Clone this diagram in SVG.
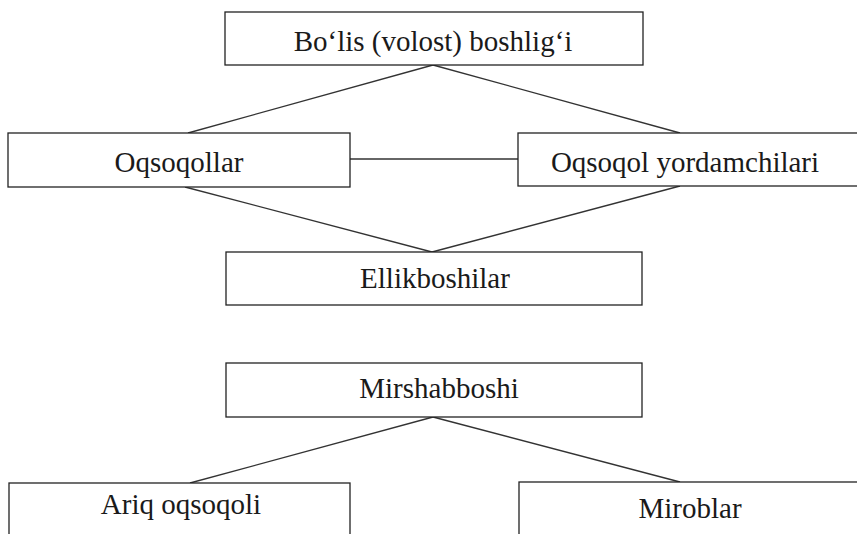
<svg xmlns="http://www.w3.org/2000/svg" width="857" height="534" viewBox="0 0 857 534">
<style>
.box{fill:#fff;stroke:#222;stroke-width:1.3}
.lbl{font-family:"Liberation Serif",serif;font-size:29px;fill:#1a1a1a;text-anchor:middle}
.con line{stroke:#333;stroke-width:1.3}
</style>
<rect width="857" height="534" fill="#fff"/>
<g class="con">
<line x1="433" y1="65" x2="188" y2="133"/>
<line x1="433" y1="65" x2="680" y2="133"/>
<line x1="350" y1="159" x2="518" y2="159"/>
<line x1="185" y1="187" x2="432" y2="252"/>
<line x1="680" y1="186" x2="432" y2="252"/>
<line x1="433" y1="417" x2="190" y2="483"/>
<line x1="433" y1="417" x2="680" y2="482"/>
</g>
<g id="n1"><rect class="box" x="225" y="12" width="418" height="53"/><text class="lbl" x="433" y="51">Bo‘lis (volost) boshlig‘i</text></g>
<g id="n2"><rect class="box" x="8" y="133" width="342" height="54"/><text class="lbl" x="179" y="172">Oqsoqollar</text></g>
<g id="n3"><rect class="box" x="518" y="133" width="345" height="53"/><text class="lbl" x="685" y="172">Oqsoqol yordamchilari</text></g>
<g id="n4"><rect class="box" x="226" y="252" width="416" height="53"/><text class="lbl" x="435" y="288">Ellikboshilar</text></g>
<g id="n5"><rect class="box" x="226" y="363" width="416" height="54"/><text class="lbl" x="439" y="398">Mirshabboshi</text></g>
<g id="n6"><rect class="box" x="9" y="483" width="341" height="60"/><text class="lbl" x="181" y="514">Ariq oqsoqoli</text></g>
<g id="n7"><rect class="box" x="519" y="482" width="345" height="60"/><text class="lbl" x="690" y="518">Miroblar</text></g>
</svg>
